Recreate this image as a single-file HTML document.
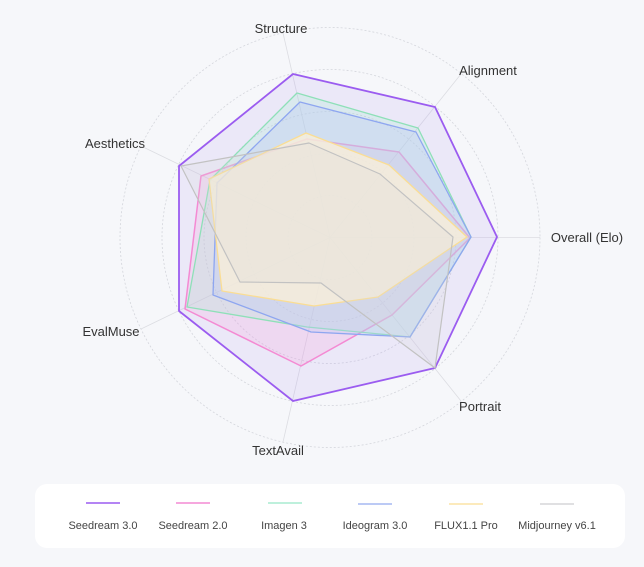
<!DOCTYPE html>
<html><head><meta charset="utf-8"><style>
html,body{margin:0;padding:0;background:#f6f7fa;width:644px;height:567px;overflow:hidden;font-family:"Liberation Sans",sans-serif;}
</style></head><body>
<svg width="644" height="567" viewBox="0 0 644 567" xmlns="http://www.w3.org/2000/svg">
<rect width="644" height="567" fill="#f6f7fa"/>
<g fill="none" stroke="#d4d6dc" stroke-width="0.8" stroke-dasharray="2,2">
<circle cx="330" cy="237.5" r="42"/>
<circle cx="330" cy="237.5" r="84"/>
<circle cx="330" cy="237.5" r="126"/>
<circle cx="330" cy="237.5" r="168"/>
<circle cx="330" cy="237.5" r="210"/>
</g>
<g stroke="#dcdde2" stroke-width="0.8">
<line x1="330" y1="237.5" x2="540" y2="237.5"/>
<line x1="330" y1="237.5" x2="461" y2="401"/>
<line x1="330" y1="237.5" x2="283" y2="442"/>
<line x1="330" y1="237.5" x2="141" y2="329"/>
<line x1="330" y1="237.5" x2="141" y2="146"/>
<line x1="330" y1="237.5" x2="283" y2="33"/>
<line x1="330" y1="237.5" x2="461" y2="74"/>
</g>
<g stroke-linejoin="round">
<polygon points="497,237 435,368 293,401 179,311 179,166 293,74 435,107" fill="#a98bf0" fill-opacity="0.14" stroke="#9b5cf0" stroke-width="1.8"/>
<polygon points="470,238 392,315 301,366 185,309 201,176 307,139 399,152" fill="#f7a8dc" fill-opacity="0.25" stroke="#f48ad3" stroke-width="1.5"/>
<polygon points="471,237 410,337 307,327 187,307 210,180 297,93 418,128" fill="#a8ecd0" fill-opacity="0.25" stroke="#8ee0b8" stroke-width="1.3"/>
<polygon points="471,237 410,337 311,332 213,295 217,183 300,102 416,132" fill="#b8c8f4" fill-opacity="0.3" stroke="#8ea6f0" stroke-width="1.3"/>
<polygon points="467,237 378,297 314,306 222,291 209,179 306,133 389,165" fill="#fbf0d8" fill-opacity="0.75" stroke="#fadd94" stroke-width="1.3"/>
<polygon points="453,237 435,368 321,283 240,282 181,166 309,143 380,174" fill="#dcdcdc" fill-opacity="0.22" stroke="#c2c2c2" stroke-width="1.2"/>
</g>
<g font-size="13" fill="#333" text-anchor="middle" font-family="Liberation Sans, sans-serif">
<text x="281" y="33">Structure</text>
<text x="488" y="75">Alignment</text>
<text x="587" y="242">Overall (Elo)</text>
<text x="480" y="411">Portrait</text>
<text x="278" y="455">TextAvail</text>
<text x="111" y="336">EvalMuse</text>
<text x="115" y="148">Aesthetics</text>
</g>
<rect x="35" y="484" width="590" height="64" rx="12" fill="#ffffff"/>
<g stroke-width="1.5">
<line x1="86" x2="120" y1="503" y2="503" stroke="#9b5cf0"/>
<line x1="176" x2="210" y1="503" y2="503" stroke="#f48ad3"/>
<line x1="268" x2="302" y1="503" y2="503" stroke="#a8ecd0"/>
<line x1="358" x2="392" y1="504" y2="504" stroke="#a6b8f2"/>
<line x1="449" x2="483" y1="504" y2="504" stroke="#fbe3a6"/>
<line x1="540" x2="574" y1="504" y2="504" stroke="#d6d6d8"/>
</g>
<g font-size="11" fill="#444" text-anchor="middle" font-family="Liberation Sans, sans-serif">
<text x="103" y="529">Seedream 3.0</text>
<text x="193" y="529">Seedream 2.0</text>
<text x="284" y="529">Imagen 3</text>
<text x="375" y="529">Ideogram 3.0</text>
<text x="466" y="529">FLUX1.1 Pro</text>
<text x="557" y="529">Midjourney v6.1</text>
</g>
</svg>
</body></html>
